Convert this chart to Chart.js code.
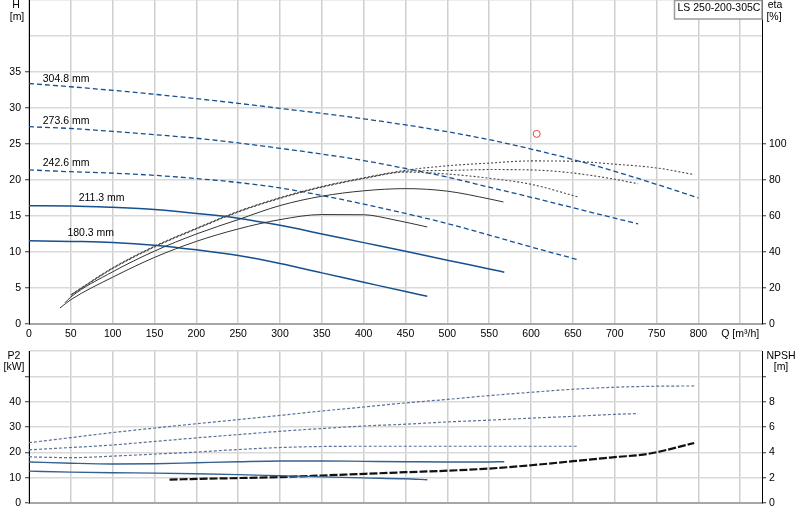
<!DOCTYPE html>
<html lang="en">
<head>
<meta charset="utf-8">
<title>LS 250-200-305C</title>
<script src="https://cdn.jsdelivr.net/npm/chart.js@4.4.1/dist/chart.umd.min.js"></script>
<style>
  html, body { margin: 0; padding: 0; background: #fff; }
  #wrap { position: relative; width: 800px; height: 520px; }
  #wrap canvas { position: absolute; left: 0; }
  #chart-h { top: 0; }
  #chart-p { top: 345px; }
</style>
</head>
<body>
<div id="wrap">
  <canvas id="chart-h" width="800" height="345"></canvas>
  <canvas id="chart-p" width="800" height="175"></canvas>
</div>
<script>
/* ============================================================
   Pump curve sheet LS 250-200-305C
   Top panel: H [m] (left) and eta [%] (right) against Q [m³/h].
   Bottom panel: P2 [kW] (left) and NPSH [m] (right).
   ============================================================ */

const PUMP_NAME = 'LS 250-200-305C';
const IMPELLER_LABELS = ['304.8 mm', '273.6 mm', '242.6 mm', '211.3 mm', '180.3 mm'];

/* ---------- H curves ---------- */
const Q_H_305 = [0, 50, 100, 150, 200, 250, 300, 350, 400, 450, 500, 550, 600, 650, 700, 750, 800];
const H_305 = [33.4, 32.95, 32.45, 31.9, 31.3, 30.65, 29.95, 29.25, 28.5, 27.65, 26.7, 25.6, 24.3, 22.85, 21.2, 19.4, 17.5];
const Q_H_274 = [0, 50, 100, 150, 200, 250, 300, 350, 400, 450, 500, 550, 600, 650, 700, 728];
const H_274 = [27.4, 27.15, 26.75, 26.3, 25.8, 25.15, 24.4, 23.6, 22.7, 21.6, 20.4, 19.0, 17.6, 16.15, 14.7, 13.9];
const Q_H_243 = [0, 50, 100, 150, 200, 250, 300, 350, 400, 450, 500, 550, 600, 657];
const H_243 = [21.4, 21.15, 20.95, 20.65, 20.2, 19.65, 18.9, 17.85, 16.65, 15.35, 13.95, 12.35, 10.7, 8.9];
const Q_H_211 = [0, 50, 100, 150, 200, 250, 300, 350, 400, 450, 500, 550, 568];
const H_211 = [16.43, 16.4, 16.2, 15.9, 15.35, 14.7, 13.7, 12.5, 11.3, 10.1, 8.85, 7.65, 7.2];
const Q_H_180 = [0, 50, 100, 150, 200, 250, 300, 350, 400, 450, 476];
const H_180 = [11.57, 11.47, 11.33, 10.95, 10.3, 9.5, 8.4, 7.1, 5.8, 4.5, 3.85];

/* ---------- eta curves ---------- */
const Q_ETA_305 = [52, 100, 150, 200, 250, 300, 350, 400, 450, 500, 550, 600, 650, 700, 750, 795];
const ETA_305 = [16.8, 31.2, 43.2, 53.2, 62.6, 70.2, 76.4, 81.2, 85.4, 87.9, 89.4, 90.6, 90.4, 88.8, 86.7, 83];
const Q_ETA_274 = [51, 100, 150, 200, 250, 300, 350, 400, 450, 500, 550, 600, 650, 700, 728];
const ETA_274 = [16.4, 31, 43, 53, 62.4, 70, 76.2, 81, 84.8, 85.3, 85.8, 85.6, 83.9, 80.4, 77.9];
const Q_ETA_243 = [50, 100, 150, 200, 250, 300, 350, 400, 450, 500, 550, 600, 657];
const ETA_243 = [16, 30.8, 42.8, 52.8, 62.2, 69.8, 76, 80.8, 84.4, 83.3, 81, 77.6, 70.5];
const Q_ETA_211 = [43, 50, 100, 150, 200, 250, 300, 350, 400, 450, 500, 550, 567];
const ETA_211 = [11.8, 15, 29, 40.5, 50, 58, 65.8, 71, 74, 75.2, 73.8, 69.5, 67.8];
const Q_ETA_180 = [37, 50, 100, 150, 200, 250, 300, 350, 400, 435, 476];
const ETA_180 = [8.9, 13.5, 26, 37, 45.9, 52.8, 58, 60.8, 60.7, 58, 53.9];

/* ---------- P2 curves ---------- */
const Q_P2_305 = [0, 50, 100, 150, 200, 250, 300, 350, 400, 450, 500, 550, 600, 650, 700, 750, 795];
const P2_305 = [23.8, 25.8, 27.8, 29.6, 31.3, 32.9, 34.6, 36.3, 37.9, 39.5, 40.9, 42.4, 43.7, 44.9, 45.7, 46.1, 46.2];
const Q_P2_274 = [0, 50, 100, 150, 200, 250, 300, 350, 400, 450, 500, 550, 600, 650, 700, 728];
const P2_274 = [21.0, 21.9, 22.9, 24.3, 25.7, 27, 28.3, 29.4, 30.4, 31.1, 32, 32.7, 33.5, 34.2, 35, 35.3];
const Q_P2_243 = [0, 50, 100, 150, 200, 250, 300, 350, 400, 450, 500, 550, 600, 657];
const P2_243 = [18.2, 17.9, 18.5, 19.3, 20.1, 21.1, 21.9, 22.3, 22.4, 22.4, 22.4, 22.4, 22.4, 22.4];
const Q_P2_211 = [0, 50, 100, 150, 200, 250, 300, 350, 400, 450, 500, 550, 568];
const P2_211 = [16.2, 15.7, 15.4, 15.5, 15.9, 16.3, 16.6, 16.6, 16.45, 16.3, 16.2, 16.2, 16.3];
const Q_P2_180 = [0, 50, 100, 150, 200, 250, 300, 350, 400, 450, 476];
const P2_180 = [12.6, 12.2, 11.95, 11.8, 11.55, 11.2, 10.75, 10.3, 9.9, 9.55, 9.2];

/* ---------- NPSH and duty point ---------- */
const Q_NPSH = [168, 200, 250, 300, 350, 400, 450, 500, 550, 600, 650, 700, 740, 795];
const NPSH = [1.85, 1.9, 1.97, 2.05, 2.17, 2.3, 2.43, 2.55, 2.72, 2.98, 3.3, 3.62, 3.88, 4.74];
const DUTY_Q = [606.7];
const DUTY_H = [26.4];

/* ---------- Axis ranges and tick labels ---------- */
const Q_MAX = 876;
const Q_STEP = 50;
const Q_TITLE_TICK = 850;          // that tick carries the axis title instead of a number
const H_MAX = 45, H_STEP = 5, H_LAST_LABEL = 35;
const ETA_MAX = 180, ETA_STEP = 20, ETA_LAST_LABEL = 100;
const P2_MAX = 60, P2_STEP = 10, P2_LAST_LABEL = 40, P2_LAST_TICK = 50;
const NPSH_MAX = 12, NPSH_STEP = 2, NPSH_LAST_LABEL = 8, NPSH_LAST_TICK = 10;

/* ---------- Styles ---------- */
const FONT_FAMILY = "'Liberation Sans', Arial, sans-serif";
const FONT_SIZE = 10.5;
const BLUE = '#15508f';
const STYLE_H_DASHED = { borderColor: BLUE, borderWidth: 1.3, borderDash: [5, 3] };
const STYLE_H_SOLID = { borderColor: BLUE, borderWidth: 1.5 };
const STYLE_ETA_DOTTED = { borderColor: '#4a4a4a', borderWidth: 1.1, borderDash: [2, 2] };
const STYLE_ETA_SOLID = { borderColor: '#333', borderWidth: 1 };
const STYLE_P2_DOTTED = { borderColor: '#5a7198', borderWidth: 1.2, borderDash: [3, 2] };
const STYLE_P2_SOLID = { borderColor: '#34608f', borderWidth: 1.4 };
const STYLE_NPSH = { borderColor: '#111', borderWidth: 2.2, borderDash: [8, 2] };

Chart.defaults.font.family = FONT_FAMILY;
Chart.defaults.font.size = FONT_SIZE;
Chart.defaults.color = '#000';

const PumpCurvePage = {
  charts: {},

  init() {
    this.charts.top = this.buildTopChart();
    this.charts.bottom = this.buildBottomChart();
  },

  points(qs, vs) {
    return qs.map((q, i) => ({ x: q, y: vs[i] }));
  },

  curve(qs, vs, axis, style) {
    return Object.assign({
      data: this.points(qs, vs), yAxisID: axis, pointRadius: 0, fill: false,
      cubicInterpolationMode: 'monotone'
    }, style);
  },

  // Q axis shared by both panels; the top one shows numbers, the bottom one not.
  qAxis(height, showLabels) {
    return {
      type: 'linear', min: 0, max: Q_MAX,
      afterFit: s => { s.height = height; s.paddingLeft = 0; s.paddingRight = 0; },
      border: { color: '#a6a6a6', width: 2 },
      grid: { color: '#cfcfcf', lineWidth: 1.5, drawTicks: false },
      ticks: {
        display: showLabels, stepSize: Q_STEP, includeBounds: false, autoSkip: false,
        maxRotation: 0, padding: 4,
        callback: v => v === Q_TITLE_TICK ? 'Q [m³/h]' : v
      }
    };
  },

  valueAxis(position, max, step, lastLabel, lastTick, width, withGrid) {
    return {
      type: 'linear', position, min: 0, max,
      afterFit: s => { s.width = width; s.paddingTop = 0; s.paddingBottom = 0; },
      border: { color: '#000', width: 1 },
      grid: {
        drawOnChartArea: withGrid, color: '#d9d9d9', lineWidth: 1.5, tickLength: 4, tickWidth: 1,
        tickColor: c => (c.tick && c.tick.value <= lastTick) ? '#333' : 'rgba(0,0,0,0)'
      },
      ticks: {
        stepSize: step, padding: position === 'left' ? 4 : 3,
        callback: v => v <= lastLabel ? v : ''
      }
    };
  },

  baseOptions(top) {
    return {
      responsive: false, animation: false, events: [],
      layout: { autoPadding: false, padding: { top, left: 0, right: 0, bottom: 0 } },
      plugins: { legend: { display: false }, tooltip: { enabled: false } }
    };
  },

  drawText(ctx, text, x, y, align) {
    ctx.textAlign = align || 'center';
    ctx.fillText(text, x, y);
  },

  /* ---------- Top panel: H and eta ---------- */
  buildTopChart() {
    const page = this;
    const labelSpots = [[16.4, 34.0], [16.4, 28.2], [16.4, 22.3], [59.4, 17.5], [45.9, 12.6]];

    const textsPlugin = {
      id: 'topTexts',
      afterDatasetsDraw(chart) {
        const { ctx, scales: { x, h } } = chart;
        ctx.save();
        ctx.font = `${FONT_SIZE}px ${FONT_FAMILY}`;
        ctx.fillStyle = '#000';
        ctx.textBaseline = 'middle';
        IMPELLER_LABELS.forEach((txt, i) => {
          page.drawText(ctx, txt, x.getPixelForValue(labelSpots[i][0]), h.getPixelForValue(labelSpots[i][1]), 'left');
        });
        page.drawText(ctx, 'H', 16, 5);
        page.drawText(ctx, '[m]', 17, 17.5);
        page.drawText(ctx, 'eta', 775, 5);
        page.drawText(ctx, '[%]', 774, 17);

        // name box, top right corner
        const bx = 674.5, bw = chart.chartArea.right - bx, bh = 18.5;
        ctx.fillStyle = '#fff';
        ctx.fillRect(bx, 0, bw, bh);
        ctx.strokeStyle = '#9a9a9a';
        ctx.lineWidth = 1.5;
        ctx.strokeRect(bx, 0.5, bw, bh);
        ctx.fillStyle = '#000';
        page.drawText(ctx, PUMP_NAME, bx + 3, 8, 'left');
        ctx.restore();
      }
    };

    return new Chart(document.getElementById('chart-h'), {
      type: 'line',
      data: {
        datasets: [
          this.curve(Q_ETA_305, ETA_305, 'eta', STYLE_ETA_DOTTED),
          this.curve(Q_ETA_274, ETA_274, 'eta', STYLE_ETA_DOTTED),
          this.curve(Q_ETA_243, ETA_243, 'eta', STYLE_ETA_DOTTED),
          this.curve(Q_ETA_211, ETA_211, 'eta', STYLE_ETA_SOLID),
          this.curve(Q_ETA_180, ETA_180, 'eta', STYLE_ETA_SOLID),
          this.curve(Q_H_305, H_305, 'h', STYLE_H_DASHED),
          this.curve(Q_H_274, H_274, 'h', STYLE_H_DASHED),
          this.curve(Q_H_243, H_243, 'h', STYLE_H_DASHED),
          this.curve(Q_H_211, H_211, 'h', STYLE_H_SOLID),
          this.curve(Q_H_180, H_180, 'h', STYLE_H_SOLID),
          {
            data: this.points(DUTY_Q, DUTY_H), yAxisID: 'h', showLine: false,
            pointRadius: 3.5, pointBorderWidth: 1, pointBorderColor: '#f03c3c', pointBackgroundColor: 'rgba(0,0,0,0)'
          }
        ]
      },
      options: Object.assign(this.baseOptions(0), {
        scales: {
          x: this.qAxis(21, true),
          h: this.valueAxis('left', H_MAX, H_STEP, H_LAST_LABEL, H_LAST_LABEL, 29, true),
          eta: this.valueAxis('right', ETA_MAX, ETA_STEP, ETA_LAST_LABEL, ETA_LAST_LABEL, 38, false)
        }
      }),
      plugins: [textsPlugin]
    });
  },

  /* ---------- Bottom panel: P2 and NPSH ---------- */
  buildBottomChart() {
    const page = this;
    const textsPlugin = {
      id: 'bottomTexts',
      afterDraw(chart) {
        const { ctx } = chart;
        ctx.save();
        ctx.font = `${FONT_SIZE}px ${FONT_FAMILY}`;
        ctx.fillStyle = '#000';
        ctx.textBaseline = 'middle';
        page.drawText(ctx, 'P2', 14, 11);
        page.drawText(ctx, '[kW]', 14, 22.5);
        page.drawText(ctx, 'NPSH', 781, 11);
        page.drawText(ctx, '[m]', 781, 22.5);
        ctx.restore();
      }
    };

    return new Chart(document.getElementById('chart-p'), {
      type: 'line',
      data: {
        datasets: [
          this.curve(Q_P2_305, P2_305, 'p2', STYLE_P2_DOTTED),
          this.curve(Q_P2_274, P2_274, 'p2', STYLE_P2_DOTTED),
          this.curve(Q_P2_243, P2_243, 'p2', STYLE_P2_DOTTED),
          this.curve(Q_P2_211, P2_211, 'p2', STYLE_P2_SOLID),
          this.curve(Q_P2_180, P2_180, 'p2', STYLE_P2_SOLID),
          this.curve(Q_NPSH, NPSH, 'npsh', STYLE_NPSH)
        ]
      },
      options: Object.assign(this.baseOptions(6), {
        scales: {
          x: this.qAxis(17, false),
          p2: this.valueAxis('left', P2_MAX, P2_STEP, P2_LAST_LABEL, P2_LAST_TICK, 29, true),
          npsh: this.valueAxis('right', NPSH_MAX, NPSH_STEP, NPSH_LAST_LABEL, NPSH_LAST_TICK, 38, false)
        }
      }),
      plugins: [textsPlugin]
    });
  }
};

PumpCurvePage.init();
</script>
</body>
</html>
